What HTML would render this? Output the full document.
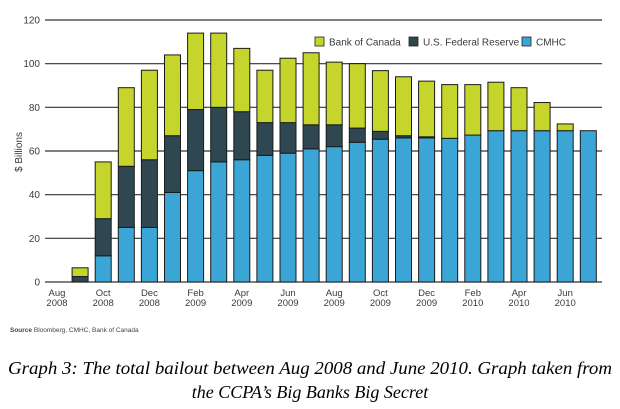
<!DOCTYPE html>
<html><head><meta charset="utf-8">
<style>
html,body{margin:0;padding:0;background:#fff;width:620px;height:409px;overflow:hidden}
svg{display:block}
.t{font-family:"Liberation Sans",sans-serif;fill:#3a3a3a}
</style></head>
<body>
<svg width="620" height="409" viewBox="0 0 620 409">
<g id="grid"></g>
<g id="bars"></g>
<g id="labels"></g>
<text class="t" transform="translate(22,152) rotate(-90)" text-anchor="middle" font-size="10">$ Billions</text>
<g font-size="10">
  <g><rect x="315" y="37" width="9" height="9" fill="#c5d52b" stroke="#222" stroke-width="0.8"/><text class="t" x="329" y="45.5">Bank of Canada</text></g>
  <g><rect x="409" y="37" width="9" height="9" fill="#2f4750" stroke="#222" stroke-width="0.8"/><text class="t" x="423" y="45.5">U.S. Federal Reserve</text></g>
  <g><rect x="522" y="37" width="9" height="9" fill="#3ba6d6" stroke="#222" stroke-width="0.8"/><text class="t" x="536" y="45.5">CMHC</text></g>
</g>
<text x="10" y="332" font-size="6.5" font-family="Liberation Sans,sans-serif" fill="#444"><tspan font-weight="bold">Source</tspan> Bloomberg, CMHC, Bank of Canada</text>
<text x="310" y="374" text-anchor="middle" font-size="18" font-style="italic" font-family="Liberation Serif,serif" fill="#000" textLength="604" lengthAdjust="spacingAndGlyphs">Graph 3: The total bailout between Aug 2008 and June 2010. Graph taken from</text>
<text x="310" y="398" text-anchor="middle" font-size="18" font-style="italic" font-family="Liberation Serif,serif" fill="#000">the CCPA’s Big Banks Big Secret</text>
</svg>
<script>
const months = ["Aug 2008","Sep 2008","Oct 2008","Nov 2008","Dec 2008","Jan 2009","Feb 2009","Mar 2009","Apr 2009","May 2009","Jun 2009","Jul 2009","Aug 2009","Sep 2009","Oct 2009","Nov 2009","Dec 2009","Jan 2010","Feb 2010","Mar 2010","Apr 2010","May 2010","Jun 2010","Jul 2010"];
const cmhc = [0,0,12,25,25,41,51,55,56,58,59,61,62,64,65.4,66,66,65.8,67.3,69.3,69.3,69.3,69.3,69.3];
const fed = [0,2.5,17,28,31,26,28,25,22,15,14,11,10,6.5,3.6,1,0.5,0,0,0,0,0,0,0];
const boc = [0,4,26,36,41,37,35,34,29,24,29.5,33,28.7,29.5,27.8,27,25.5,24.6,23.1,22.2,19.7,12.9,3.1,0];
const yTicks = [0,20,40,60,80,100,120];
const xTickIdx = [0,2,4,6,8,10,12,14,16,18,20,22];

const NS="http://www.w3.org/2000/svg";
const y0=282, pxPer=262/120, slot=23.1, x0=57, bw=16;
const yS=v=>y0-v*pxPer;
const xS=i=>x0+i*slot;
function mk(tag,attrs,parent){const e=document.createElementNS(NS,tag);for(const k in attrs)e.setAttribute(k,attrs[k]);parent.appendChild(e);return e;}
const grid=document.getElementById('grid'),bars=document.getElementById('bars'),labels=document.getElementById('labels');
yTicks.forEach(v=>{
  const l=mk('line',{x1:45,x2:602,y1:yS(v),y2:yS(v),stroke:'#333','stroke-width':1.2},grid);
  
  
  const t=mk('text',{x:40,y:yS(v)+3.5,'text-anchor':'end','font-size':10,class:'t'},labels);
  
  
  t.textContent=v;
});
const series=[[cmhc,'#3ba6d6','cmhc'],[fed,'#2f4750','fed'],[boc,'#c5d52b','boc']];
months.forEach((m,i)=>{
  let base=0;
  series.forEach(([arr,col,nm])=>{
    const v=arr[i]; if(v<=0)return;
    const r=mk('rect',{x:xS(i)-bw/2,y:yS(base+v),width:bw,height:v*pxPer,fill:col,stroke:'#1a1a1a','stroke-width':1},bars);
    
    
    base+=v;
  });
});
xTickIdx.forEach(i=>{
  const [mo,yr]=months[i].split(' ');
  const t=mk('text',{x:xS(i),y:296,'text-anchor':'middle','font-size':9.5,class:'t'},labels);
  
  
  mk('tspan',{x:xS(i),dy:0},t).textContent=mo;
  mk('tspan',{x:xS(i),dy:10},t).textContent=yr;
});
</script>
</body></html>
